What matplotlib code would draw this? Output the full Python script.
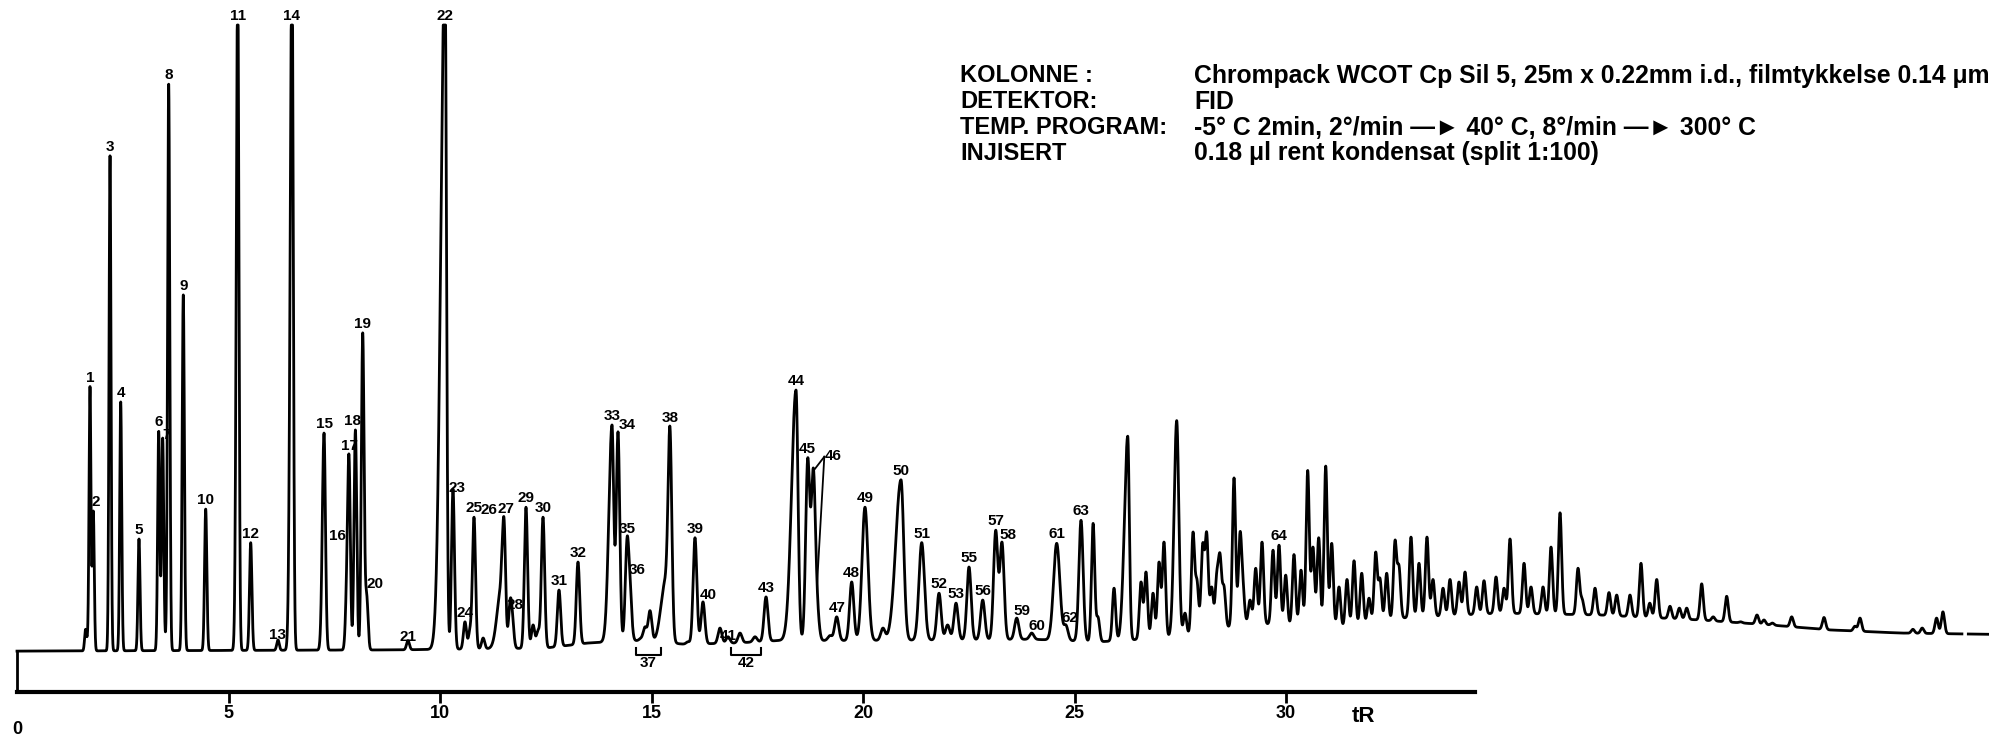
"""
Gas chromatogram of a condensate sample (FID), redrawn with matplotlib
"""

import numpy as np
import matplotlib
matplotlib.use("Agg")
import matplotlib.pyplot as plt
from matplotlib.transforms import blended_transform_factory

# numbered peaks: label, retention time (min), height (% of recorder span, >100 = off scale)
peak_no = ['1', '2', '3', '4', '5', '6', '7', '8', '9', '10',
           '11', '12', '13', '14', '15', '16', '17', '18', '19', '20',
           '21', '22', '23', '24', '25', '26', '27', '28', '29', '30',
           '31', '32', '33', '34', '35', '36', '37', '38', '39', '40',
           '41', '42', '43', '44', '45', '46', '47', '48', '49', '50',
           '51', '52', '53', '55', '56', '57', '58', '59', '60', '61',
           '62', '63', '64']
peak_tr = [1.726, 1.804, 2.199, 2.452, 2.884, 3.350, 3.444, 3.586, 3.931, 4.461,
           5.218, 5.525, 6.170, 6.501, 7.258, 7.794, 7.849, 8.000, 8.173, 8.267,
           9.243, 10.118, 10.307, 10.590, 10.804, 11.440, 11.513, 11.655, 12.033, 12.435,
           12.813, 13.262, 14.066, 14.208, 14.421, 14.492, 14.965, 15.437, 16.028, 16.217,
           16.809, 17.092, 17.707, 18.416, 18.693, 18.825, 19.378, 19.733, 20.047, 20.898,
           21.388, 21.797, 22.199, 22.506, 22.830, 23.137, 23.286, 23.634, 23.988, 24.579,
           24.799, 25.154, 29.835]
peak_h = [42.0, 22.0, 79.0, 39.5, 17.5, 34.8, 33.7, 90.5, 56.7, 22.3,
          108.0, 16.9, 1.3, 112.0, 34.5, 14.0, 31.0, 35.0, 50.6, 8.8,
          1.2, 110.0, 25.5, 4.2, 21.0, 12.0, 20.9, 7.7, 22.6, 21.0,
          9.3, 13.8, 35.8, 34.7, 17.7, 11.4, 6.0, 35.5, 17.7, 7.4,
          1.8, 2.4, 8.2, 41.4, 30.5, 28.9, 5.0, 10.6, 22.6, 27.0,
          16.8, 8.8, 7.2, 13.0, 7.7, 18.9, 17.0, 4.8, 2.4, 16.8,
          3.7, 20.5, 16.5]

# peaks without a number
extra_tr = [1.62, 1.67, 3.52, 10.71, 11.02, 11.71, 12.20, 12.317, 14.745, 14.846,
            15.33, 15.86, 16.619, 17.447, 18.913, 19.22, 20.47, 21.50, 22.00,
            25.44, 25.556, 25.934, 26.123, 26.258, 26.572, 26.69, 26.856, 26.998, 27.116,
            27.416, 27.612, 27.801, 27.896, 28.03, 28.125, 28.243, 28.362, 28.44, 28.534,
            28.771, 28.913, 28.983, 29.149, 29.284, 29.433, 29.693, 29.993, 30.189, 30.355,
            30.513, 30.638, 30.773, 30.939, 31.081, 31.253, 31.442, 31.608, 31.79, 31.962,
            32.12, 32.222, 32.38, 32.577, 32.671, 32.955, 33.144, 33.333, 33.475, 33.712,
            33.877, 34.09, 34.232, 34.508, 34.681, 34.965, 35.154, 35.296, 35.627, 35.792,
            36.076, 36.265, 36.478, 36.903, 37.0, 37.305, 37.636, 37.818, 38.132, 38.392,
            38.6, 38.764, 39.078, 39.3, 39.473, 39.827, 40.1, 40.418, 40.75, 41.135,
            41.3, 41.5, 41.955, 42.719, 43.45, 43.57, 44.82, 45.04, 45.38, 45.53]
extra_h = [3.0, 3.0, 4.0, 3.4, 1.6, 6.0, 3.7, 2.9, 1.6, 3.4,
           12.0, 1.0, 3.2, 1.8, 10.6, 2.0, 3.2, 3.4, 3.7,
           20.0, 5.0, 9.6, 8.8, 34.0, 10.6, 12.2, 8.8, 13.8, 17.0,
           36.5, 5.6, 18.6, 11.0, 16.8, 18.6, 9.8, 12.2, 15.2, 10.0,
           27.3, 18.6, 11.4, 7.7, 12.8, 17.0, 15.7, 11.7, 15.0, 12.5,
           28.5, 16.2, 17.7, 29.2, 16.8, 9.8, 11.0, 14.0, 12.0, 8.0,
           15.4, 11.2, 12.0, 17.3, 13.3, 17.8, 13.6, 17.8, 11.0, 9.6,
           11.0, 10.6, 12.2, 9.8, 10.8, 11.4, 9.6, 17.5, 13.6, 9.8,
           9.8, 16.2, 21.7, 12.8, 8.0, 9.6, 8.9, 8.5, 8.5, 13.6,
           7.2, 11.0, 6.7, 6.4, 6.4, 10.3, 5.0, 8.3, 4.2, 5.3,
           4.5, 4.0, 5.0, 4.9, 3.5, 4.8, 3.0, 3.2, 4.8, 5.8]

# baseline drift (lower envelope of the trace)
base_tr = [0.0, 9.0, 12.5, 13.5, 14.6, 15.8, 17.0, 18.0, 20.0, 22.0, 24.0, 25.6,
           27.5, 29.15, 31.28, 32.7, 35.06, 37.42, 39.79, 41.44, 42.86, 44.52, 46.62]
base_h = [-0.5, -0.3, 0.0, 0.8, 1.2, 0.6, 0.8, 1.2, 1.2, 1.3, 1.4, 1.0,
          1.8, 4.0, 3.2, 4.8, 5.6, 5.3, 4.5, 3.7, 2.9, 2.4, 2.2]

pen_gap = (45.98, 46.13)       # pen lifted off the paper
time_ticks = [5, 10, 15, 20, 25, 30]

header_keys = ['KOLONNE :', 'DETEKTOR:', 'TEMP. PROGRAM:', 'INJISERT']
header_vals = ['Chrompack WCOT Cp Sil 5, 25m x 0.22mm i.d., filmtykkelse 0.14 \u03bcm',
               'FID',
               '-5\u00b0 C 2min, 2\u00b0/min \u2014\u25ba 40\u00b0 C, 8\u00b0/min \u2014\u25ba 300\u00b0 C',
               '0.18 \u03bcl rent kondensat (split 1:100)']

# peak shape: (left, right) width factors for the broad / fronting peaks
shape = {5.218: (1.2, 1.0), 6.501: (1.4, 1.0), 7.258: (1.3, 1.1), 10.118: (2.8, 1.0),
         11.44: (2.5, 1.0), 14.066: (1.8, 1.0), 15.33: (2.5, 2.0), 18.416: (2.2, 1.0),
         20.047: (1.4, 1.4), 20.898: (2.5, 1.3), 21.388: (1.3, 1.3), 24.579: (1.5, 1.5),
         26.258: (2.0, 1.0), 27.416: (1.6, 1.3)}

# label nudges in pixels (dx, dy), default is just above the apex
nudge = {'2': (2, 2), '7': (4, -4), '13': (0, -2), '16': (-9, 18), '18': (-3, 2),
         '20': (8, 2), '21': (0, -3), '23': (4, -6), '26': (-12, 56), '27': (2, 2),
         '28': (5, -12), '34': (9, 0), '36': (7, 0), '40': (5, 0), '41': (0, -6),
         '58': (6, 0), '59': (5, 0), '60': (5, 0), '62': (4, 0)}
brackets = {'37': (14.63, 15.22), '42': (16.88, 17.59)}

plt.rcParams['font.family'] = ['Liberation Sans', 'DejaVu Sans']
plt.rcParams['font.weight'] = 'bold'

# ---- build the trace -------------------------------------------------------
all_tr = np.r_[peak_tr, extra_tr]
all_h = np.r_[peak_h, extra_h]
n = len(all_tr)
sig = np.minimum(0.02 + 0.0015 * all_tr, 0.05)
sig[all_tr > 25.3] = 0.038
sl = sig.copy()
sr = sig.copy()
for tt, (fl, fr) in shape.items():
    i = np.argmin(np.abs(all_tr - tt))
    sl[i] *= fl
    sr[i] *= fr


def unit(x, j):
    d = x - all_tr[j]
    s = np.where(d < 0, sl[j], sr[j])
    return np.exp(-0.5 * (d / s) ** 2)


M = np.array([unit(all_tr, j) for j in range(n)]).T
amp = np.linalg.solve(M, all_h - np.interp(all_tr, base_tr, base_h))
amp = np.clip(amp, 0, None)

t = np.linspace(0, 46.62, 24000)
y = np.interp(t, base_tr, base_h)
for j in range(n):
    y = y + amp[j] * unit(t, j)
y = np.minimum(y, 100.0)
y[(t > pen_gap[0]) & (t < pen_gap[1])] = np.nan

# ---- figure ----------------------------------------------------------------
W, H = 1989, 737
fig = plt.figure(figsize=(W / 100, H / 100), dpi=100)
ax = fig.add_axes([0, 0, 1, 1])
x_lim = (-17 / 42.3, (W - 17) / 42.3)
ax.set_xlim(x_lim)
ax.set_ylim(-89 / 6.23, 648 / 6.23)
ax.set_axis_off()

ax.plot(t, y, color='black', lw=2.0)

px_x = 1 / 42.3   # minutes per pixel
px_y = 1 / 6.23   # height units per pixel
lab_fs = 11
for lab, tr in zip(peak_no, peak_tr):
    top = np.interp(tr, t, np.nan_to_num(y))
    if lab in brackets:
        t0, t1 = brackets[lab]
        ax.plot([t0, t0, t1, t1], [0, -7 * px_y, -7 * px_y, 0], color='black', lw=1.5)
        ax.text((t0 + t1) / 2, -8 * px_y, lab, ha='center', va='top', fontsize=lab_fs)
        continue
    if lab == '46':
        lx, ly = tr + 20 * px_x, top + 5 * px_y
        for tt in (tr, 18.913):
            hh = np.interp(tt, t, np.nan_to_num(y))
            ax.plot([lx - 9 * px_x, tt], [ly + 1, hh - 3 * px_y], color='black', lw=1.3)
        ax.text(lx, ly, lab, ha='center', va='bottom', fontsize=lab_fs)
        continue
    dx, dy = nudge.get(lab, (0, 2))
    ax.text(tr + dx * px_x, top + dy * px_y, lab, ha='center', va='bottom', fontsize=lab_fs)

# time axis
ax_t = fig.add_axes([0, 45 / H, 1, 41 / H])
ax_t.set_xlim(x_lim)
ax_t.patch.set_visible(False)
for side in ('top', 'right'):
    ax_t.spines[side].set_visible(False)
ax_t.spines['left'].set_position(('data', 0))
ax_t.spines['left'].set_linewidth(2.0)
ax_t.spines['bottom'].set_linewidth(3.0)
ax_t.spines['bottom'].set_bounds(0, 34.47)
ax_t.set_yticks([])
ax_t.set_xticks(time_ticks)
ax_t.set_xticklabels([str(v) for v in time_ticks], fontsize=13, fontweight='bold')
ax_t.tick_params(axis='x', direction='out', length=8, width=2, pad=1.5)
trans = blended_transform_factory(ax_t.transData, fig.transFigure)
ax_t.text(0, 1 - 730 / H, '0', transform=trans, ha='center', va='center', fontsize=13)
ax_t.text(31.84, 1 - 717 / H, 'tR', transform=trans, ha='center', va='center', fontsize=16)

# header block
for k, (key, val) in enumerate(zip(header_keys, header_vals)):
    yy = 1 - (76 + 25.8 * k) / H
    fig.text(960 / W, yy, key, ha='left', va='center', fontsize=17)
    fig.text(1194 / W, yy, val, ha='left', va='center', fontsize=17.8)

fig.savefig('out.png', dpi=100, facecolor='white')
